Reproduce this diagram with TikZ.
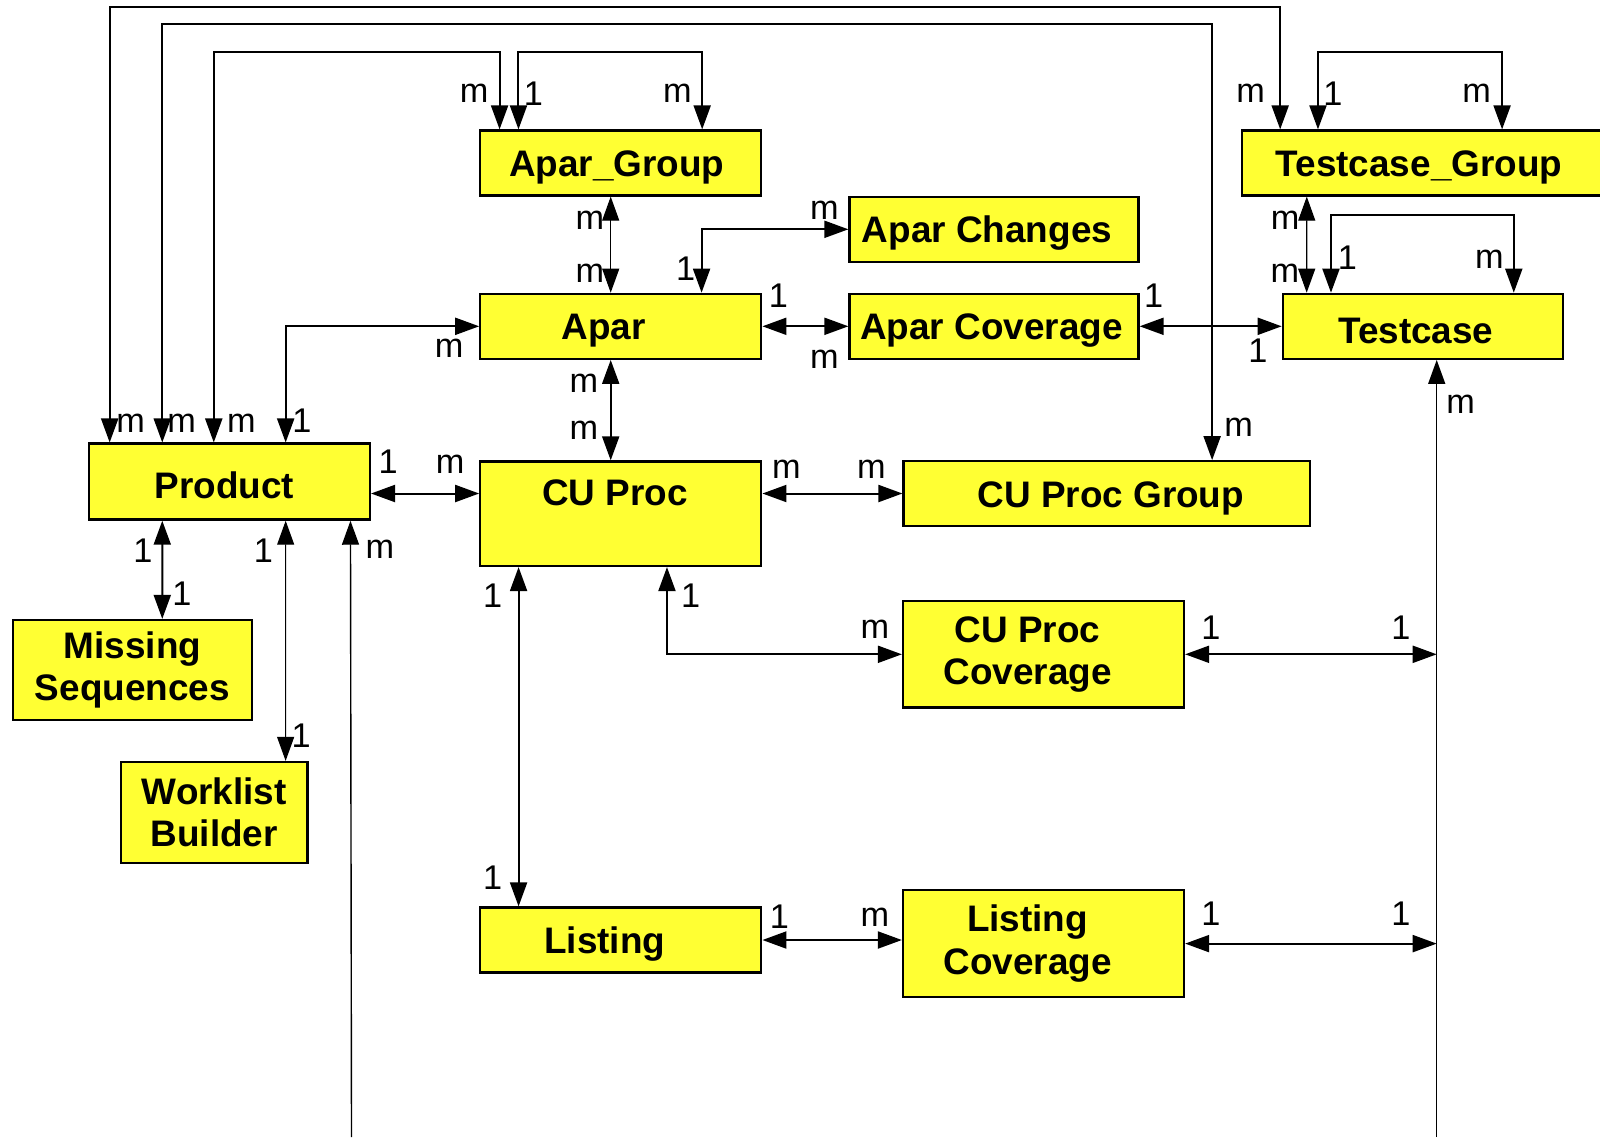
\documentclass[tikz,border=0pt]{standalone}
\usepackage{fontspec}
\setmainfont{Liberation Sans}
\usetikzlibrary{arrows.meta,calc}
\definecolor{entityfill}{RGB}{255,255,51}
\tikzset{
  entity/.style={
    rectangle, draw=black, line width=0.45mm, fill=entityfill,
    minimum width=56.2mm, minimum height=13mm,
    align=center, inner sep=0pt,
    font=\fontsize{21}{24.2}\selectfont\bfseries,
    execute at begin node={\rule{0pt}{7mm}}
  },
  link/.style={<->, >={Triangle[length=4.8mm, width=3.4mm]}, line width=0.4mm},
  thinlink/.style={link, line width=0.22mm},
  feed/.style={->, >={Triangle[length=4.8mm, width=3.4mm]}, line width=0.28mm},
  card/.style={anchor=base, inner sep=0pt, font=\fontsize{19.5}{22}\selectfont}
}

\begin{document}
\begin{tikzpicture}[x=0.2mm, y=-0.2mm]
  \useasboundingbox (0,0) rectangle (1600,1137);
  \clip (0,0) rectangle (1600,1137);

  \node[entity] (apargroup) at (620.8,163) {Apar\_Group\hspace*{1.6mm}};
  \node[entity] (apar) at (620.8,326.3) {Apar\hspace*{6.8mm}};
  \node[entity, minimum width=57.8mm] (aparchanges) at (994,229.3) {Apar Changes\hspace*{2.8mm}};
  \node[entity, minimum width=57.8mm] (aparcov) at (994,326.3) {Apar Coverage\hspace*{1mm}};
  \node[entity, minimum width=73.6mm] (tcgroup) at (1426,163) {Testcase\_Group\hspace*{2.8mm}};
  \node[entity, minimum width=56mm] (testcase) at (1422.8,326.3) {Testcase\hspace*{2.8mm}};
  \node[entity, minimum height=15.2mm] (product) at (229.4,481.6) {Product\hspace*{2mm}};
  \node[entity, minimum height=20.9mm] (cuproc) at (620.8,513.7) {CU Proc\hspace*{2.4mm}\\\mbox{}};
  \node[entity, minimum width=81.3mm, minimum height=12.9mm] (cugroup) at (1106.8,493.5) {\hspace*{1.6mm}CU Proc Group};
  \node[entity, minimum width=47.8mm, minimum height=20mm] (missing) at (132.4,670) {Missing\\Sequences};
  \node[entity, minimum width=37.3mm, minimum height=20.2mm] (worklist) at (214.3,812.5) {Worklist\\Builder};
  \node[entity, minimum height=21.3mm] (cucov) at (1043.5,654.3) {CU Proc\hspace*{6.4mm}\\Coverage\hspace*{6.4mm}};
  \node[entity] (listing) at (620.8,940) {Listing\hspace*{6.4mm}};
  \node[entity, minimum height=21.3mm] (listcov) at (1043.5,943.6) {Listing\hspace*{6.4mm}\\Coverage\hspace*{6.4mm}};

  \coordinate (prodfoot) at (351.5,1137);
  \coordinate (railfoot) at (1436.7,1137);

  % runs over the top
  \draw[link] ($(product.north west)+(21.9,0)$) node[card, shift={(20.9,-9.6)}] {m}
    -- ++(0,-435.7) -| ($(tcgroup.north west)+(39.3,0)$) node[card, shift={(-29.6,-26.8)}] {m};
  \draw[link] ($(product.north west)+(74.5,0)$) node[card, shift={(19.4,-9.6)}] {m}
    -- ++(0,-418.6) -| ($(cugroup.north west)+(309.7,0)$) node[card, shift={(26.5,-23.9)}] {m};
  \draw[link] ($(product.north west)+(126,0)$) node[card, shift={(27.5,-9.6)}] {m}
    -- ++(0,-390) -| ($(apargroup.north west)+(20.4,0)$) node[card, shift={(-25.5,-26.8)}] {m};
  \draw[link] ($(apargroup.north west)+(39.3,0)$) node[card, shift={(15,-23.4)}] {1}
    -- ++(0,-77.5) -| ($(apargroup.north west)+(223,0)$) node[card, shift={(-24.8,-26.8)}] {m};
  \draw[link] ($(tcgroup.north west)+(77.1,0)$) node[card, shift={(15,-23.4)}] {1}
    -- ++(0,-77.5) -| ($(tcgroup.north west)+(261.2,0)$) node[card, shift={(-25.4,-26.8)}] {m};
  \draw[link] ($(testcase.north west)+(49.3,0)$) node[card, shift={(16.5,-23.6)}] {1}
    -- ++(0,-77.2) -| ($(testcase.north west)+(232.1,0)$) node[card, shift={(-24.3,-24.4)}] {m};

  \draw[thinlink] ($(apargroup.south)+(-10.1,0)$) node[card, shift={(-20.7,33.2)}] {m}
    -- ($(apar.north)+(-10.1,0)$) node[card, shift={(-20.7,-10.3)}] {m};
  \draw[link] ($(apar.north west)+(222.4,0)$) node[card, shift={(-16,-12.3)}] {1}
    |- (aparchanges.west) node[card, shift={(-24,-9.7)}] {m};
  \draw[link] (apar.east) node[card, shift={(16,-19.3)}] {1}
    -- (aparcov.west) node[card, shift={(-24,41.7)}] {m};
  \draw[link] (aparcov.east) node[card, shift={(14,-19.3)}] {1}
    -- (testcase.west) node[card, shift={(-23.7,36.2)}] {1};
  \draw[thinlink] ($(tcgroup.south west)+(65.9,0)$) node[card, shift={(-21.7,33.2)}] {m}
    -- ($(testcase.north west)+(25,0)$) node[card, shift={(-21.7,-10)}] {m};
  \draw[link] ($(product.north west)+(197.9,0)$) node[card, shift={(16.3,-9.6)}] {1}
    |- (apar.west) node[card, shift={(-30,30.7)}] {m};
  \draw[link] ($(apar.south)+(-10.1,0)$) node[card, shift={(-26.7,32.4)}] {m}
    -- ($(cuproc.north)+(-10.1,0)$) node[card, shift={(-26.7,-20.4)}] {m};

  \draw[link] (product.east |- cugroup.west) node[card, shift={(17,-20.5)}] {1}
    -- (cuproc.west |- cugroup.west) node[card, shift={(-29,-20.5)}] {m};
  \draw[link] (cuproc.east |- cugroup.west) node[card, shift={(24,-15.5)}] {m}
    -- (cugroup.west) node[card, shift={(-31,-15)}] {m};

  \draw[link] ($(product.south west)+(74.5,0)$) node[card, shift={(-19.3,41.5)}] {1}
    -- ($(missing.north west)+(150.5,0)$) node[card, shift={(19.7,-13.4)}] {1};
  \draw[thinlink] ($(product.south west)+(197.9,0)$) node[card, shift={(-22.2,41.5)}] {1}
    -- ($(worklist.north west)+(165.7,0)$) node[card, shift={(15.6,-13.3)}] {1};
  \draw[feed] (prodfoot) -- ($(product.south west)+(262.7,0)$) node[card, shift={(29.5,37.5)}] {m};

  \draw[link] ($(cuproc.south west)+(39.4,0)$) node[card, shift={(-26,40.6)}] {1}
    -- ($(listing.north west)+(39.4,0)$) node[card, shift={(-26,-16.7)}] {1};
  \draw[link] ($(cuproc.south west)+(187.8,0)$) node[card, shift={(23.6,40.6)}] {1}
    |- (cucov.west) node[card, shift={(-27,-16.3)}] {m};
  \draw[link] (listing.east) node[card, shift={(17,-11.5)}] {1}
    -- (listing.east -| listcov.west) node[card, shift={(-27,-13.4)}] {m};

  \draw[feed] (railfoot) -- (railfoot |- testcase.south) node[card, shift={(24,53.2)}] {m};
  \draw[link] (cucov.east) node[card, shift={(25.7,-15.3)}] {1}
    -- (cucov.east -| railfoot) node[card, shift={(-35.7,-15.3)}] {1};
  \draw[link] (listcov.east) node[card, shift={(25.7,-18.2)}] {1}
    -- (listcov.east -| railfoot) node[card, shift={(-35.7,-18.2)}] {1};
\end{tikzpicture}
\end{document}
